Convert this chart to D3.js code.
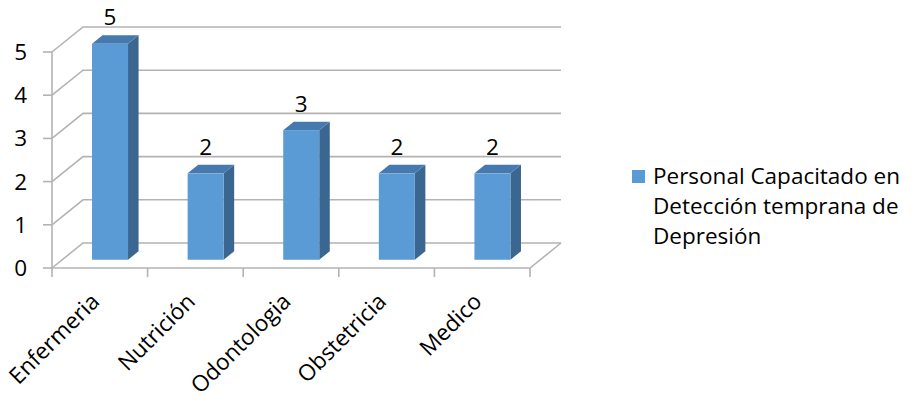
<!DOCTYPE html>
<html>
<head>
<meta charset="utf-8">
<script src="https://cdn.jsdelivr.net/npm/d3@7"></script>
<style>
  body { margin: 0; background: #fff; }
  text { font-family: "Open Sans", Lato, sans-serif; fill: #000; }
</style>
</head>
<body>
<div id="visual"></div>
<script>
// 3D-ish column chart, Excel style

const categories = ["Enfermeria", "Nutrición", "Odontologia", "Obstetricia", "Medico"];
const values = [5, 2, 3, 2, 2];
const yTicks = [0, 1, 2, 3, 4, 5];
const legendLines = ["Personal Capacitado en", "Detección temprana de", "Depresión"];

const W = 913, H = 401;
const plotL = 52, plotR = 530, plotB = 268, plotT = 52;
const DX = 31, DY = -25;          // depth of the box
const z0 = 0.33, z1 = 0.67;       // bar sits in the middle of the depth
const barW = 36;
const fs = "22.5px";

const svg = d3.select("#visual").append("svg")
  .attr("width", W).attr("height", H);

const x = d3.scaleBand().domain(categories).range([plotL, plotR]);
const y = d3.scaleLinear().domain([0, 5]).range([plotB, plotT]);

const grid = "#b3b3b3";
const P = (px, v, z) => [px + z * DX, y(v) + z * DY];
const line = d3.line();

// back wall gridlines + left wall diagonals
yTicks.forEach(t => {
  svg.append("path")
     .attr("d", line([P(plotL, t, 0), P(plotL, t, 1), P(plotR, t, 1)]))
     .attr("fill", "none").attr("stroke", grid).attr("stroke-width", 1.6);
});

// floor front + right edge
svg.append("path")
   .attr("d", line([P(plotL, 0, 0), P(plotR, 0, 0), P(plotR, 0, 1)]))
   .attr("fill", "none").attr("stroke", grid).attr("stroke-width", 1.6);

// y axis line
svg.append("path")
   .attr("d", line([P(plotL, 0, 0), P(plotL, 5, 0)]))
   .attr("fill", "none").attr("stroke", grid).attr("stroke-width", 1.6);

// y ticks + labels
yTicks.forEach(t => {
  svg.append("line")
     .attr("x1", plotL - 9).attr("x2", plotL)
     .attr("y1", y(t)).attr("y2", y(t))
     .attr("stroke", grid).attr("stroke-width", 1.6);
  svg.append("text")
     .attr("x", 27).attr("y", y(t) + 8)
     .attr("text-anchor", "end")
     .attr("font-size", fs)
     .text(t);
});

// category ticks
const edges = categories.map(c => x(c)).concat([plotR]);
edges.forEach(e => {
  svg.append("line")
     .attr("x1", e).attr("x2", e)
     .attr("y1", plotB).attr("y2", plotB + 9)
     .attr("stroke", grid).attr("stroke-width", 1.6);
});

// bars
categories.forEach((c, i) => {
  const v = values[i];
  const xl = x(c) + x.bandwidth() / 2 - barW / 2;
  const xr = xl + barW;
  const g = svg.append("g");

  // side
  g.append("path")
   .attr("d", line([P(xr, 0, z0), P(xr, 0, z1), P(xr, v, z1), P(xr, v, z0)]) + "Z")
   .attr("fill", "#3a6690");
  // top
  g.append("path")
   .attr("d", line([P(xl, v, z0), P(xr, v, z0), P(xr, v, z1), P(xl, v, z1)]) + "Z")
   .attr("fill", "#4679ae");
  // front
  const [fx, fy] = P(xl, v, z0);
  g.append("rect")
   .attr("x", fx).attr("y", fy)
   .attr("width", barW).attr("height", y(0) - y(v))
   .attr("fill", "#5b9bd5");

  // value label, centred over the front face
  const lx = fx + barW / 2;
  const ly = P(xl, v, z1)[1];
  svg.append("text")
     .attr("x", lx).attr("y", ly - 10)
     .attr("text-anchor", "middle")
     .attr("font-size", fs)
     .text(v);

  // category label
  const cx = x(c) + x.bandwidth() / 2 + 1;
  const cy = plotB + 35;
  svg.append("text")
     .attr("transform", `translate(${cx},${cy}) rotate(-45)`)
     .attr("text-anchor", "end")
     .attr("font-size", fs)
     .text(c);
});

// legend
svg.append("rect")
   .attr("x", 632).attr("y", 170)
   .attr("width", 13).attr("height", 13)
   .attr("fill", "#5b9bd5");

legendLines.forEach((s, i) => {
  svg.append("text")
     .attr("x", 653).attr("y", 184 + i * 30)
     .attr("font-size", fs)
     .text(s);
});
</script>
</body>
</html>
